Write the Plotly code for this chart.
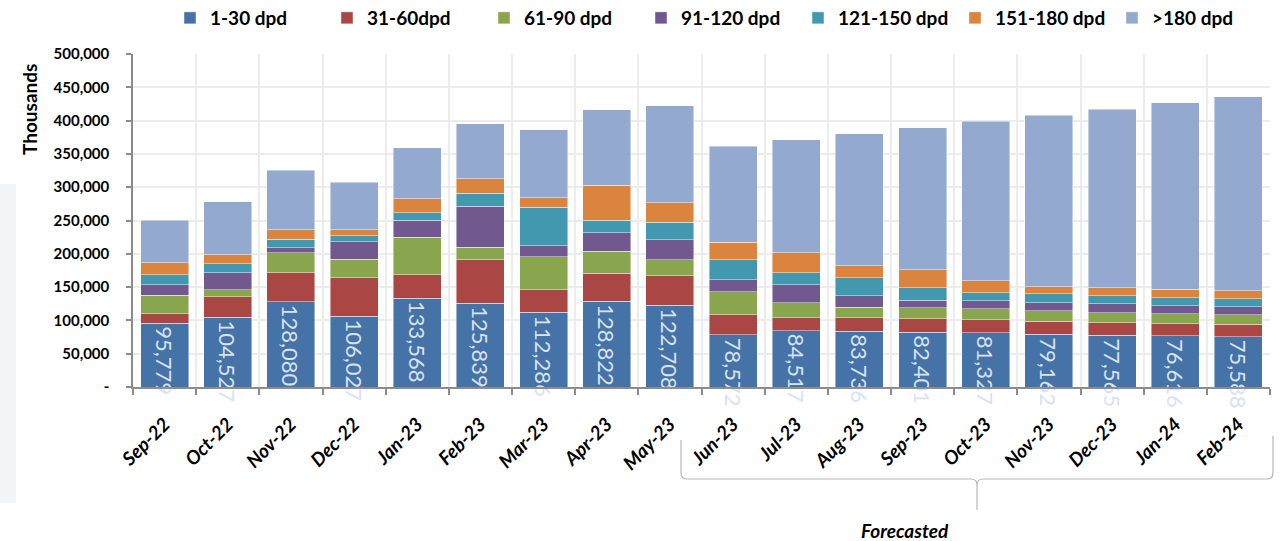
import plotly.graph_objects as go

months = ["Sep-22", "Oct-22", "Nov-22", "Dec-22", "Jan-23", "Feb-23", "Mar-23", "Apr-23", "May-23",
          "Jun-23", "Jul-23", "Aug-23", "Sep-23", "Oct-23", "Nov-23", "Dec-23", "Jan-24", "Feb-24"]

dpd_1_30 = [95779, 104527, 128080, 106027, 133568, 125839, 112286, 128822, 122708,
            78572, 84517, 83736, 82401, 81327, 79162, 77565, 76616, 75588]
dpd_31_60 = [14500, 31200, 43800, 57800, 34800, 65000, 33500, 42000, 44600,
             30100, 19200, 20000, 19800, 19400, 19500, 18600, 18600, 18600]
dpd_61_90 = [27500, 10000, 30000, 28000, 56600, 19000, 50000, 33000, 24000,
             34000, 22500, 16000, 17000, 16500, 15500, 15500, 15000, 14500]
dpd_91_120 = [16000, 26000, 7500, 26000, 25500, 61600, 16000, 28000, 30000,
              18500, 27500, 17500, 11000, 12000, 12500, 13000, 12000, 11500]
dpd_121_150 = [15000, 13500, 12500, 9000, 11500, 19500, 58000, 18500, 26000,
               30000, 18000, 27000, 18500, 12000, 13000, 12000, 12000, 12000]
dpd_151_180 = [17500, 13000, 14000, 9500, 20500, 22000, 14500, 52600, 29000,
               26000, 30000, 17500, 27000, 18000, 11000, 12500, 12500, 12000]
dpd_over_180 = [64000, 80000, 89700, 71000, 76600, 82200, 102000, 113700, 146300,
                144300, 169800, 198400, 213900, 240000, 257500, 268000, 280000, 291600]

series_names = ["1-30 dpd", "31-60dpd", "61-90 dpd", "91-120 dpd", "121-150 dpd", "151-180 dpd", ">180 dpd"]
series_values = [dpd_1_30, dpd_31_60, dpd_61_90, dpd_91_120, dpd_121_150, dpd_151_180, dpd_over_180]
series_colors = ["#4572A7", "#AA4643", "#89A54E", "#71588F", "#4198AF", "#DB843D", "#93A9CF"]

y_tick_values = [0, 50000, 100000, 150000, 200000, 250000, 300000, 350000, 400000, 450000, 500000]
y_tick_labels = ["-", "50,000", "100,000", "150,000", "200,000", "250,000", "300,000",
                 "350,000", "400,000", "450,000", "500,000"]

FONT = "Lato, 'Liberation Sans', Arial, sans-serif"
W, H = 1281, 541
ML, MR, MT, MB = 133, 11, 54, 154
PW, PH = W - ML - MR, H - MT - MB


def px_x(px):
    return (px - ML) / PW


def px_y(py):
    return (H - MB - py) / PH


fig = go.Figure()
for i, (name, vals, col) in enumerate(zip(series_names, series_values, series_colors)):
    kw = {}
    if i == 0:
        kw = dict(
            text=[f"{v:,}" for v in vals],
            textposition="inside",
            insidetextanchor="end",
            textangle=90,
            constraintext="none",
            textfont=dict(family=FONT, size=22, color="#d8e3f2"),
            cliponaxis=False,
        )
    fig.add_trace(go.Bar(
        x=months, y=vals, name=name,
        marker=dict(color=col, line=dict(color="rgba(255,255,255,0.55)", width=0.8)),
        hoverinfo="skip",
        **kw,
    ))

# Forecast brace
xl, xm, xr = px_x(681), px_x(977), px_x(1273)
y_top_l, y_top_r, y_h, y_tip = px_y(440), px_y(436), px_y(479), px_y(510)
r = 6
rx = r / PW
ry = r / PH
brace = (f"M {xl},{y_top_l} L {xl},{y_h + ry} Q {xl},{y_h} {xl + rx},{y_h} "
         f"L {xm - rx},{y_h} Q {xm},{y_h} {xm},{y_h - ry} L {xm},{y_tip} "
         f"M {xm},{y_h - ry} Q {xm},{y_h} {xm + rx},{y_h} "
         f"L {xr - rx},{y_h} Q {xr},{y_h} {xr},{y_h + ry} L {xr},{y_top_r}")

fig.update_layout(
    width=W, height=H,
    margin=dict(l=ML, r=MR, t=MT, b=MB, pad=0, autoexpand=False),
    barmode="stack",
    bargap=0.24,
    plot_bgcolor="white",
    paper_bgcolor="white",
    font=dict(family=FONT, color="black"),
    showlegend=True,
    legend=dict(
        orientation="h", traceorder="normal",
        x=px_x(170), xanchor="left", y=px_y(18), yanchor="middle",
        font=dict(family=FONT, size=19, color="black", weight="bold"),
        entrywidth=112, entrywidthmode="pixels",
        bgcolor="rgba(0,0,0,0)",
    ),
    xaxis=dict(
        type="category",
        tickson="boundaries",
        ticks="outside", ticklen=6, tickcolor="#8c8c8c", tickwidth=1.5,
        showline=True, linecolor="#8c8c8c", linewidth=1.5,
        showgrid=True, gridcolor="#ececec", gridwidth=2,
        tickangle=-45,
        ticklabelstandoff=17,
        tickfont=dict(family=FONT, size=19, color="black", weight="bold", style="italic"),
        automargin=False,
    ),
    yaxis=dict(
        range=[0, 500000],
        tickvals=y_tick_values, ticktext=y_tick_labels,
        ticks="outside", ticklen=5, tickcolor="#8c8c8c", tickwidth=1.5,
        showline=True, linecolor="#8c8c8c", linewidth=1.5,
        showgrid=True, gridcolor="#ececec", gridwidth=2,
        zeroline=False,
        ticklabelstandoff=14,
        tickfont=dict(family=FONT, size=15, color="black", weight="bold"),
        automargin=False,
    ),
    shapes=[
        dict(type="rect", xref="paper", yref="paper",
             x0=px_x(0), x1=px_x(16), y0=px_y(503), y1=px_y(184),
             fillcolor="#f3f4f6", line=dict(width=0), layer="below"),
        dict(type="path", xref="paper", yref="paper", path=brace,
             line=dict(color="#b8b8b8", width=1.2)),
    ],
    annotations=[
        dict(text="Thousands", xref="paper", yref="paper",
             x=px_x(29), y=px_y(110), xanchor="center", yanchor="middle",
             textangle=-90, showarrow=False,
             font=dict(family=FONT, size=19, color="black", weight="bold")),
        dict(text="Forecasted", xref="paper", yref="paper",
             x=px_x(905), y=px_y(530), xanchor="center", yanchor="middle",
             showarrow=False,
             font=dict(family=FONT, size=19, color="black", weight="bold", style="italic")),
    ],
)

fig.write_html("out.html")
